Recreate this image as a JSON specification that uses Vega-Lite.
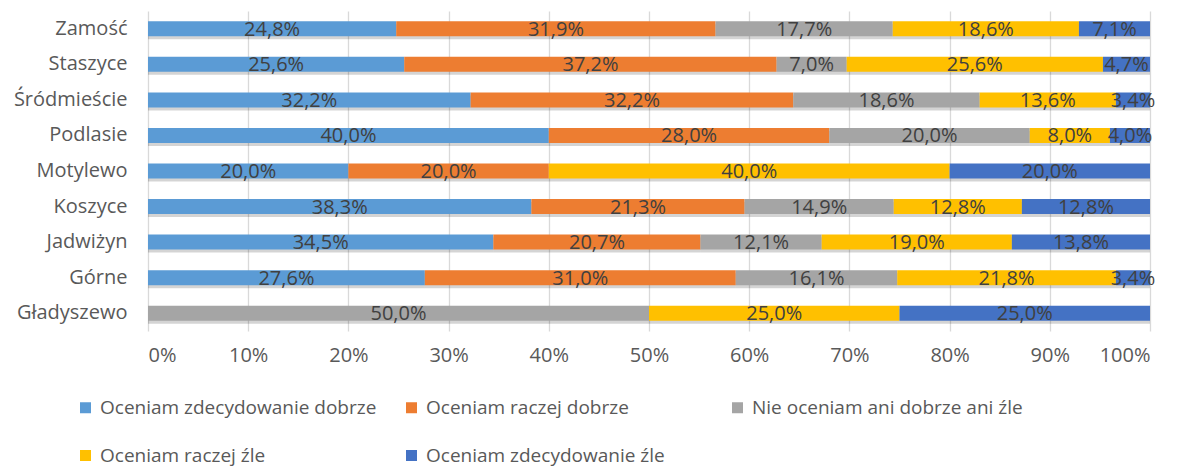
{
  "$schema": "https://vega.github.io/schema/vega-lite/v6.json",
  "width": 1002,
  "height": 320,
  "autosize": {"type": "none"},
  "padding": {"left": 148, "top": 11, "right": 37, "bottom": 139},
  "background": "white",
  "config": {
    "locale": {"number": {"decimal": ",", "thousands": " ", "grouping": [3], "currency": ["", ""]}},
    "view": {"stroke": null},
    "font": "Open Sans"
  },
  "data": {
    "values": [
      {"d": "Zamość", "s": "Oceniam zdecydowanie dobrze", "k": 1, "v": 0.248},
      {"d": "Zamość", "s": "Oceniam raczej dobrze", "k": 2, "v": 0.319},
      {"d": "Zamość", "s": "Nie oceniam ani dobrze ani źle", "k": 3, "v": 0.177},
      {"d": "Zamość", "s": "Oceniam raczej źle", "k": 4, "v": 0.186},
      {"d": "Zamość", "s": "Oceniam zdecydowanie źle", "k": 5, "v": 0.071},
      {"d": "Staszyce", "s": "Oceniam zdecydowanie dobrze", "k": 1, "v": 0.256},
      {"d": "Staszyce", "s": "Oceniam raczej dobrze", "k": 2, "v": 0.372},
      {"d": "Staszyce", "s": "Nie oceniam ani dobrze ani źle", "k": 3, "v": 0.070},
      {"d": "Staszyce", "s": "Oceniam raczej źle", "k": 4, "v": 0.256},
      {"d": "Staszyce", "s": "Oceniam zdecydowanie źle", "k": 5, "v": 0.047},
      {"d": "Śródmieście", "s": "Oceniam zdecydowanie dobrze", "k": 1, "v": 0.322},
      {"d": "Śródmieście", "s": "Oceniam raczej dobrze", "k": 2, "v": 0.322},
      {"d": "Śródmieście", "s": "Nie oceniam ani dobrze ani źle", "k": 3, "v": 0.186},
      {"d": "Śródmieście", "s": "Oceniam raczej źle", "k": 4, "v": 0.136},
      {"d": "Śródmieście", "s": "Oceniam zdecydowanie źle", "k": 5, "v": 0.034},
      {"d": "Podlasie", "s": "Oceniam zdecydowanie dobrze", "k": 1, "v": 0.400},
      {"d": "Podlasie", "s": "Oceniam raczej dobrze", "k": 2, "v": 0.280},
      {"d": "Podlasie", "s": "Nie oceniam ani dobrze ani źle", "k": 3, "v": 0.200},
      {"d": "Podlasie", "s": "Oceniam raczej źle", "k": 4, "v": 0.080},
      {"d": "Podlasie", "s": "Oceniam zdecydowanie źle", "k": 5, "v": 0.040},
      {"d": "Motylewo", "s": "Oceniam zdecydowanie dobrze", "k": 1, "v": 0.200},
      {"d": "Motylewo", "s": "Oceniam raczej dobrze", "k": 2, "v": 0.200},
      {"d": "Motylewo", "s": "Oceniam raczej źle", "k": 4, "v": 0.400},
      {"d": "Motylewo", "s": "Oceniam zdecydowanie źle", "k": 5, "v": 0.200},
      {"d": "Koszyce", "s": "Oceniam zdecydowanie dobrze", "k": 1, "v": 0.383},
      {"d": "Koszyce", "s": "Oceniam raczej dobrze", "k": 2, "v": 0.213},
      {"d": "Koszyce", "s": "Nie oceniam ani dobrze ani źle", "k": 3, "v": 0.149},
      {"d": "Koszyce", "s": "Oceniam raczej źle", "k": 4, "v": 0.128},
      {"d": "Koszyce", "s": "Oceniam zdecydowanie źle", "k": 5, "v": 0.128},
      {"d": "Jadwiżyn", "s": "Oceniam zdecydowanie dobrze", "k": 1, "v": 0.345},
      {"d": "Jadwiżyn", "s": "Oceniam raczej dobrze", "k": 2, "v": 0.207},
      {"d": "Jadwiżyn", "s": "Nie oceniam ani dobrze ani źle", "k": 3, "v": 0.121},
      {"d": "Jadwiżyn", "s": "Oceniam raczej źle", "k": 4, "v": 0.190},
      {"d": "Jadwiżyn", "s": "Oceniam zdecydowanie źle", "k": 5, "v": 0.138},
      {"d": "Górne", "s": "Oceniam zdecydowanie dobrze", "k": 1, "v": 0.276},
      {"d": "Górne", "s": "Oceniam raczej dobrze", "k": 2, "v": 0.310},
      {"d": "Górne", "s": "Nie oceniam ani dobrze ani źle", "k": 3, "v": 0.161},
      {"d": "Górne", "s": "Oceniam raczej źle", "k": 4, "v": 0.218},
      {"d": "Górne", "s": "Oceniam zdecydowanie źle", "k": 5, "v": 0.034},
      {"d": "Gładyszewo", "s": "Nie oceniam ani dobrze ani źle", "k": 3, "v": 0.500},
      {"d": "Gładyszewo", "s": "Oceniam raczej źle", "k": 4, "v": 0.250},
      {"d": "Gładyszewo", "s": "Oceniam zdecydowanie źle", "k": 5, "v": 0.250}
    ]
  },
  "encoding": {
    "y": {
      "field": "d",
      "type": "nominal",
      "sort": ["Zamość", "Staszyce", "Śródmieście", "Podlasie", "Motylewo", "Koszyce", "Jadwiżyn", "Górne", "Gładyszewo"],
      "axis": {"title": null, "domain": false, "ticks": false, "grid": false, "labelFontSize": 20, "labelColor": "#595959", "labelPadding": 21}
    }
  },
  "layer": [
    {
      "mark": {"type": "bar", "size": 15, "yOffset": 3, "color": "#000000", "opacity": 0.17},
      "encoding": {
        "x": {
          "field": "v", "type": "quantitative", "stack": "normalize",
          "scale": {"domain": [0, 1]},
          "axis": {"title": null, "format": ".0%", "values": [0, 0.1, 0.2, 0.3, 0.4, 0.5, 0.6, 0.7, 0.8, 0.9, 1], "domain": false, "ticks": false, "grid": true, "gridColor": "#d9d9d9", "gridWidth": 1.3, "labelFontSize": 20, "labelColor": "#595959", "labelPadding": 14}
        },
        "detail": {"field": "s"},
        "order": {"field": "k"}
      }
    },
    {
      "mark": {"type": "bar", "size": 15},
      "encoding": {
        "x": {"field": "v", "type": "quantitative", "stack": "normalize"},
        "color": {
          "field": "s", "type": "nominal",
          "scale": {
            "domain": ["Oceniam zdecydowanie dobrze", "Oceniam raczej dobrze", "Nie oceniam ani dobrze ani źle", "Oceniam raczej źle", "Oceniam zdecydowanie źle"],
            "range": ["#5B9BD5", "#ED7D31", "#A5A5A5", "#FFC000", "#4472C4"]
          },
          "legend": {"orient": "none", "legendX": -72, "legendY": 387, "direction": "horizontal", "columns": 3, "gridAlign": "all", "columnPadding": 25, "rowPadding": 28, "symbolType": "square", "symbolSize": 121, "symbolStrokeWidth": 0, "labelFontSize": 19, "labelColor": "#595959", "labelOffset": 5, "title": null, "labelLimit": 400}
        },
        "order": {"field": "k"}
      }
    },
    {
      "mark": {"type": "text", "fontSize": 20, "color": "#404040", "baseline": "middle", "align": "center", "dy": 1},
      "encoding": {
        "x": {"field": "v", "type": "quantitative", "stack": "normalize", "bandPosition": 0.5},
        "detail": {"field": "s"},
        "order": {"field": "k"},
        "text": {"field": "v", "type": "quantitative", "format": ".1%"}
      }
    }
  ]
}
